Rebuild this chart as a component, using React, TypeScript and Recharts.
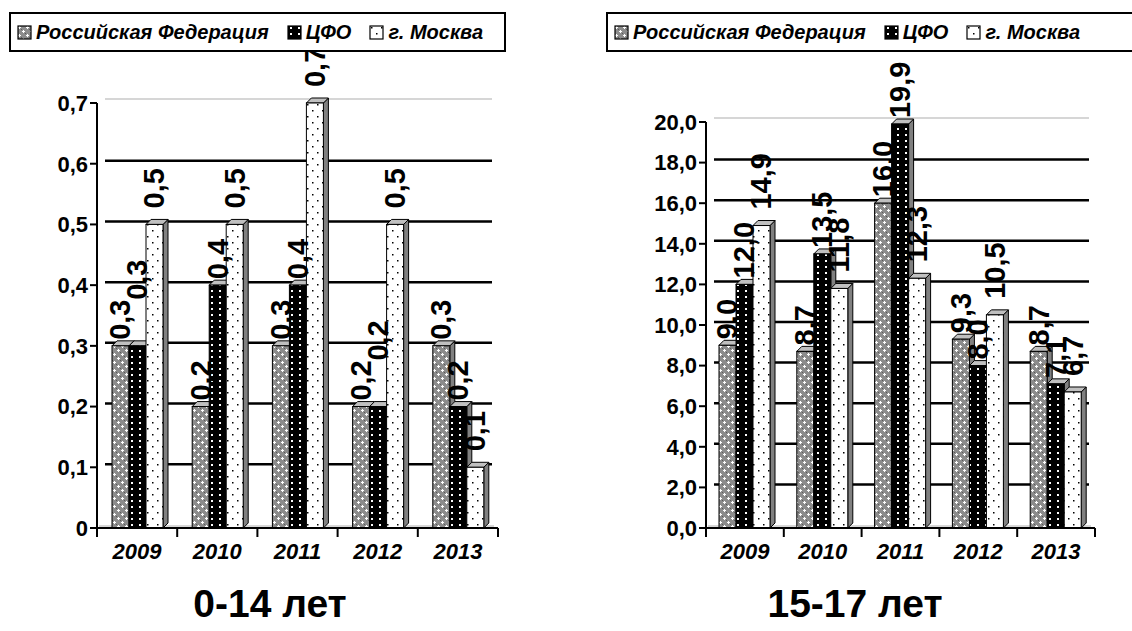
import React from "react";
import { BarChart, Bar, XAxis, YAxis, CartesianGrid, LabelList } from "recharts";

const years = ["2009", "2010", "2011", "2012", "2013"];

// 0-14 лет
const rfKids = [0.3, 0.2, 0.3, 0.2, 0.3];
const cfoKids = [0.3, 0.4, 0.4, 0.2, 0.2];
const mskKids = [0.5, 0.5, 0.7, 0.5, 0.1];
const kidsTicks = [0, 0.1, 0.2, 0.3, 0.4, 0.5, 0.6, 0.7];

// 15-17 лет
const rfTeens = [9.0, 8.7, 16.0, 9.3, 8.7];
const cfoTeens = [12.0, 13.5, 19.9, 8.0, 7.1];
const mskTeens = [14.9, 11.8, 12.3, 10.5, 6.7];
const teensTicks = [0, 2, 4, 6, 8, 10, 12, 14, 16, 18, 20];

const seriesNames = ["Российская Федерация", "ЦФО", "г. Москва"];
const FILLS = ["url(#patRF)", "url(#patCFO)", "url(#patMSK)"];
const FONT = "'Liberation Sans', Arial, sans-serif";

type Row = { year: string; rf: number; cfo: number; msk: number };

const kidsData: Row[] = years.map((year, i) => ({ year, rf: rfKids[i], cfo: cfoKids[i], msk: mskKids[i] }));
const teensData: Row[] = years.map((year, i) => ({ year, rf: rfTeens[i], cfo: cfoTeens[i], msk: mskTeens[i] }));

const comma = (v: number) => v.toFixed(1).replace(".", ",");

function Patterns() {
  return (
    <svg width={0} height={0} style={{ position: "absolute" }}>
      <defs>
        <pattern id="patRF" width={8} height={8} patternUnits="userSpaceOnUse">
          <rect width={8} height={8} fill="#8c8c8c" />
          <rect x={0} y={0} width={1} height={1} fill="#5a5a5a" />
          <rect x={4} y={4} width={1} height={1} fill="#5a5a5a" />
          <rect x={2} y={1} width={1} height={3} fill="#fff" />
          <rect x={1} y={2} width={3} height={1} fill="#fff" />
          <rect x={6} y={5} width={1} height={3} fill="#fff" />
          <rect x={5} y={6} width={3} height={1} fill="#fff" />
        </pattern>
        <pattern id="patCFO" width={8} height={6} patternUnits="userSpaceOnUse">
          <rect width={8} height={6} fill="#000" />
          <rect x={3} y={2} width={2} height={2} fill="#fff" />
        </pattern>
        <pattern id="patMSK" width={10} height={12} patternUnits="userSpaceOnUse">
          <rect width={10} height={12} fill="#fff" />
          <rect x={2} y={2} width={1.5} height={1.5} fill="#000" />
          <rect x={7} y={8} width={1.5} height={1.5} fill="#000" />
        </pattern>
      </defs>
    </svg>
  );
}

// bar front with a shaded side and top, like the 3D column chart
const Bar3D = (props: any) => {
  const { x, y, width, height, fill } = props;
  if (!height || height <= 0) return null;
  const d = 5;
  return (
    <g>
      <polygon
        points={`${x + width},${y} ${x + width + d},${y - d} ${x + width + d},${y + height - d} ${x + width},${y + height}`}
        fill="#808080"
        stroke="#000"
        strokeWidth={1}
      />
      <polygon
        points={`${x},${y} ${x + d},${y - d} ${x + width + d},${y - d} ${x + width},${y}`}
        fill="#c0c0c0"
        stroke="#000"
        strokeWidth={1}
      />
      <rect x={x} y={y} width={width} height={height} fill={fill} stroke="#000" strokeWidth={1} />
    </g>
  );
};

// gap above the bar; the ЦФО label is lifted when it would sit on the РФ label
const valueLabel = (gap: (index: number) => number) => (props: any) => {
  const { x, y, width, value, index } = props;
  const cx = x + width / 2;
  const ty = y - gap(index);
  return (
    <text
      x={cx}
      y={ty}
      transform={`rotate(-90, ${cx}, ${ty})`}
      textAnchor="start"
      dominantBaseline="central"
      fontFamily={FONT}
      fontWeight="bold"
      fontSize={29}
      fill="#000"
    >
      {comma(Number(value))}
    </text>
  );
};

const yearTick = (band: number) => (props: any) => {
  const { x, y, payload, index } = props;
  return (
    <g>
      <line x1={x - band / 2} y1={y} x2={x - band / 2} y2={y + 9} stroke="#000" strokeWidth={2} />
      {index === years.length - 1 && (
        <line x1={x + band / 2} y1={y} x2={x + band / 2} y2={y + 9} stroke="#000" strokeWidth={2} />
      )}
      <text
        x={x}
        y={y + 31}
        textAnchor="middle"
        fontFamily={FONT}
        fontWeight="bold"
        fontStyle="italic"
        fontSize={22}
        fill="#000"
      >
        {payload.value}
      </text>
    </g>
  );
};

const gridLine = (top: number, bottom: number) => (props: any) => {
  const { x1, x2, y1 } = props;
  if (Math.abs(y1 - bottom) < 1) {
    return <line key={props.key} x1={x1 + 2} x2={x2 - 4} y1={y1 - 2} y2={y1 - 2} stroke="#b0b0b0" strokeWidth={1} />;
  }
  if (Math.abs(y1 - top) < 1) {
    return <line key={props.key} x1={x1 + 8} x2={x2 - 6} y1={y1 - 4} y2={y1 - 4} stroke="#c8c8c8" strokeWidth={1.5} />;
  }
  return <line key={props.key} x1={x1 + 8} x2={x2 - 6} y1={y1 - 3} y2={y1 - 3} stroke="#000" strokeWidth={2.5} />;
};

function LegendBox({ left, width }: { left: number; width: number }) {
  return (
    <div
      style={{
        position: "absolute",
        left,
        top: 12,
        width,
        height: 36,
        border: "2px solid #000",
        background: "#fff",
        display: "flex",
        alignItems: "center",
        paddingLeft: 6,
        fontFamily: FONT,
        fontWeight: "bold",
        fontStyle: "italic",
        fontSize: 20,
        whiteSpace: "nowrap",
        boxSizing: "content-box",
      }}
    >
      {seriesNames.map((name, i) => (
        <span key={name} style={{ display: "flex", alignItems: "center", marginRight: 18 }}>
          <svg width={15} height={15} style={{ marginRight: 4 }}>
            <rect x={1} y={1} width={13} height={13} fill={FILLS[i]} stroke="#000" strokeWidth={1.2} />
          </svg>
          {name}
        </span>
      ))}
    </div>
  );
}

type PanelProps = {
  data: Row[];
  ticks: number[];
  max: number;
  yWidth: number;
  top: number;
  right: number;
  zeroLabel: string;
};

function Panel({ data, ticks, max, yWidth, top, right, zeroLabel }: PanelProps) {
  const W = 566;
  const H = 631;
  const bottomMargin = 63;
  const xHeight = 40;
  const band = (W - yWidth - right) / years.length;
  const plotBottom = H - bottomMargin - xHeight;
  const cfoGap = (i: number) => (data[i] && data[i].cfo === data[i].rf ? 46 : 6);
  return (
    <BarChart
      width={W}
      height={H}
      data={data}
      margin={{ top, right, bottom: bottomMargin, left: 0 }}
      barSize={17}
      barGap={0}
      style={{ overflow: "visible" }}
    >
      <CartesianGrid vertical={false} horizontal={gridLine(top, plotBottom)} />
      <XAxis
        dataKey="year"
        height={xHeight}
        axisLine={{ stroke: "#000", strokeWidth: 2 }}
        tickLine={false}
        tickSize={0}
        tickMargin={0}
        tick={yearTick(band)}
        interval={0}
      />
      <YAxis
        width={yWidth}
        domain={[0, max]}
        ticks={ticks}
        interval={0}
        axisLine={{ stroke: "#000", strokeWidth: 2 }}
        tickLine={{ stroke: "#000", strokeWidth: 2 }}
        tickSize={7}
        tickMargin={2}
        tickFormatter={(v: number) => (v === 0 ? zeroLabel : comma(v))}
        tick={{ fill: "#000", fontFamily: FONT, fontWeight: "bold", fontSize: 22 }}
      />
      <Bar dataKey="rf" fill={FILLS[0]} shape={Bar3D} isAnimationActive={false}>
        <LabelList dataKey="rf" content={valueLabel(() => 6)} />
      </Bar>
      <Bar dataKey="cfo" fill={FILLS[1]} shape={Bar3D} isAnimationActive={false}>
        <LabelList dataKey="cfo" content={valueLabel(cfoGap)} />
      </Bar>
      <Bar dataKey="msk" fill={FILLS[2]} shape={Bar3D} isAnimationActive={false}>
        <LabelList dataKey="msk" content={valueLabel(() => 16)} />
      </Bar>
    </BarChart>
  );
}

const titleStyle: React.CSSProperties = {
  position: "absolute",
  top: 580,
  width: 300,
  textAlign: "center",
  fontFamily: FONT,
  fontWeight: "bold",
  fontSize: 39,
  lineHeight: "48px",
};

export default function App() {
  return (
    <div
      style={{
        position: "absolute",
        left: 0,
        top: 0,
        width: 1132,
        height: 631,
        overflow: "hidden",
        background: "#fff",
      }}
    >
      <Patterns />
      <div style={{ position: "absolute", left: 0, top: 0 }}>
        <Panel data={kidsData} ticks={kidsTicks} max={0.7} yWidth={97} top={103} right={68} zeroLabel="0" />
      </div>
      <div style={{ position: "absolute", left: 566, top: 0 }}>
        <Panel data={teensData} ticks={teensTicks} max={20} yWidth={140} top={122} right={37} zeroLabel="0,0" />
      </div>
      <LegendBox left={9} width={487} />
      <LegendBox left={606} width={560} />
      <div style={{ ...titleStyle, left: 120 }}>0-14 лет</div>
      <div style={{ ...titleStyle, left: 705 }}>15-17 лет</div>
    </div>
  );
}
